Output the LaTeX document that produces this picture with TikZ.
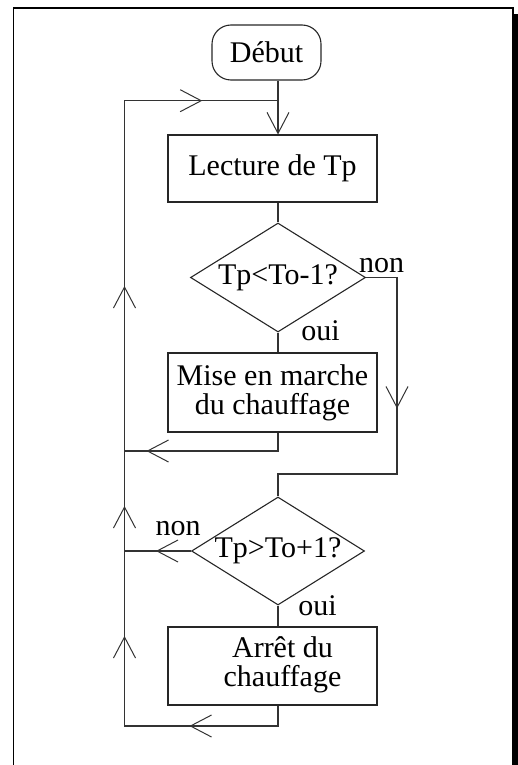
\documentclass[tikz,border=0pt]{standalone}
\usepackage{fontspec}
\setmainfont{Liberation Serif}
\usetikzlibrary{shapes.geometric,arrows.meta,decorations.markings}
\tikzset{
  every node/.style={font=\fontsize{30}{29}\selectfont},
  conn/.style={draw=black!80, line width=1.1pt, line join=miter},
  vtip/.tip={Straight Barb[length=21pt,width=22pt,line width=1pt]},
  box/.style={draw=black!85, line width=1.1pt, rectangle, inner sep=0pt, align=center},
  startbox/.style={draw=black!85, line width=1.1pt, rectangle, rounded corners=19pt, inner sep=0pt},
  decision/.style={draw=black!85, line width=1.1pt, diamond, inner sep=0pt, aspect=1.6},
  lbl/.style={anchor=base, inner sep=0pt},
}
\begin{document}
\begin{tikzpicture}[x=1pt,y=-1pt]
\useasboundingbox (0,0) rectangle (518,765);
% page frame with shadow
\draw[black, line width=1.3pt] (13.5,765) -- (13.5,8) -- (513,8) -- (513,765);
\fill[black] (514.2,14) rectangle (518,765);

% reference coordinates
\coordinate (cx) at (278,0);
\coordinate (xl) at (124.5,0);
\coordinate (xr) at (397,0);

% nodes
\node[startbox, minimum width=109pt, minimum height=55pt] (debut) at (266.5,52.5) {Début};
\node[box, minimum width=209pt, minimum height=67pt] (lecture) at (272.5,168.5) {Lecture de Tp};
\node[decision, minimum width=175pt, minimum height=109pt] (d1) at (278,277.5) {Tp<To-1?};
\node[box, minimum width=209pt, minimum height=79pt] (mise) at (272.5,392.5) {Mise en marche\\du chauffage};
\node[decision, minimum width=173pt, minimum height=108pt] (d2) at (278,551) {Tp>To+1?};
\node[box, minimum width=209pt, minimum height=78pt] (arret) at (272.5,666) {};
\node[align=center, inner sep=0pt] (arrettxt) at (282.5,665) {Arrêt du\\chauffage};

% labels
\node[lbl] (non1) at (381.5,272) {non};
\node[lbl] (oui1) at (320.5,340) {oui};
\node[lbl] (non2) at (178,535) {non};
\node[lbl] (oui2) at (317.5,615) {oui};

% corner coordinates
\coordinate (top) at (278,100.7);
\coordinate (topl) at (124.5,100.7);
\coordinate (r1) at (397,277.5);
\coordinate (r2) at (397,474);
\coordinate (r3) at (278,474);
\coordinate (m1) at (278,451);
\coordinate (m2) at (124.5,451);
\coordinate (n2) at (124.5,551);
\coordinate (a1) at (278,726);
\coordinate (a2) at (124.5,726);

% connectors
\draw[conn, -vtip] (debut.south -| cx) -- (lecture.north -| cx);
\draw[conn] (lecture.south -| cx) -- (d1.north);
\draw[conn] (d1.south) -- (mise.north -| d1.south);
\draw[conn, postaction={decorate, decoration={markings,
   mark=at position 162pt with {\arrow{vtip}}}}]
  (d1.east) -- (r1) -- (r2) -- (r3) -- (d2.north);
\draw[conn, postaction={decorate, decoration={markings,
   mark=at position 150pt with {\arrow{vtip}}}}]
  (mise.south -| cx) -- (m1) -- (m2);
\draw[conn, postaction={decorate, decoration={markings,
   mark=at position 35pt with {\arrow{vtip}}}}]
  (d2.west) -- (n2);
\draw[conn] (d2.south) -- (arret.north -| d2.south);
\draw[conn, postaction={decorate, decoration={markings,
   mark=at position 109pt with {\arrow{vtip}},
   mark=at position 264pt with {\arrow{vtip}},
   mark=at position 394pt with {\arrow{vtip}},
   mark=at position 614pt with {\arrow{vtip}},
   mark=at position 877pt with {\arrow{vtip}}}}]
  (arret.south -| cx) -- (a1) -- (a2) -- (topl) -- (top);
\end{tikzpicture}
\end{document}
